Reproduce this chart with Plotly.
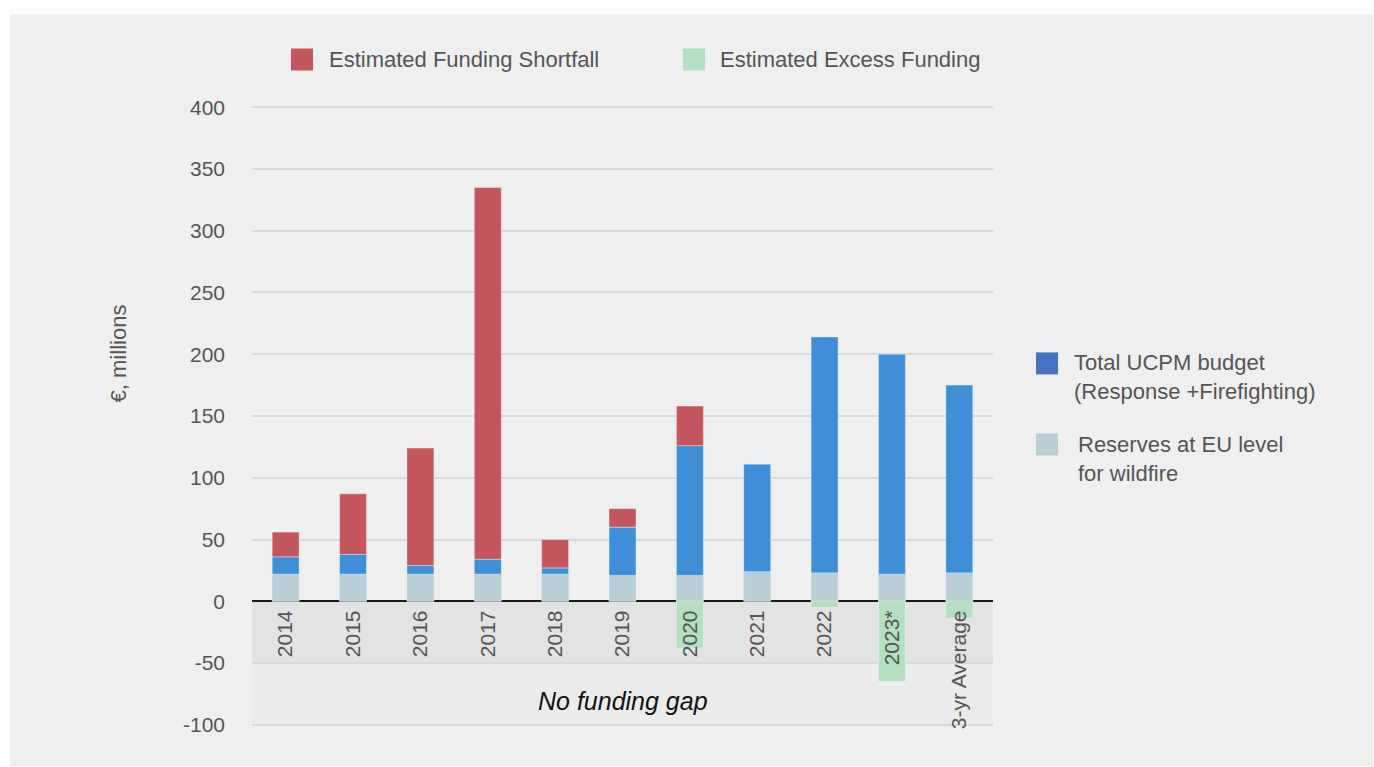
import plotly.graph_objects as go

# ---- data (€, millions) ----
categories = ["2014", "2015", "2016", "2017", "2018", "2019",
              "2020", "2021", "2022", "2023*", "3-yr Average"]
reserves = [22, 22, 22, 22, 22, 21, 21, 24, 23, 22, 23]
ucpm_budget = [36, 38, 29, 34, 27, 60, 126, 111, 214, 200, 175]
shortfall = [20, 49, 95, 301, 23, 15, 32, None, None, None, None]
excess = [None, None, None, None, None, None, -38, None, -5, -65, -14]

y_ticks = [400, 350, 300, 250, 200, 150, 100, 50, 0, -50, -100]
y_tick_labels = ["400", "350", "300", "250", "200", "150", "100", "50", "0", "-50", "-100"]

# ---- styling ----
W, H = 1374, 767
Y_LO, Y_HI = -101, 401
PL, PR, PT, PB = 252, 993, 105.5, 725.7  # plot area in pixels
FONT = "Liberation Sans, Arial, sans-serif"
RED, BLUE, RES, GREEN = "#c4575d", "#3f8ed8", "#b9ced5", "#b2e0c0"
TXT = "#555555"


def px_x(p):
    return (p - PL) / (PR - PL)


def px_y(p):
    return (PB - p) / (PB - PT)


edge = dict(color="rgba(255,255,255,0.35)", width=1)
fig = go.Figure()
fig.add_bar(x=categories, y=ucpm_budget, marker=dict(color=BLUE, line=edge),
            width=0.4, name="Total UCPM budget")
fig.add_bar(x=categories, y=reserves, marker=dict(color=RES, line=edge),
            width=0.4, name="Reserves at EU level for wildfire")
fig.add_bar(x=categories, y=shortfall, base=ucpm_budget,
            marker=dict(color=RED, line=edge), width=0.4,
            name="Estimated Funding Shortfall")
fig.add_bar(x=categories, y=excess, marker=dict(color=GREEN, line=edge),
            width=0.4, name="Estimated Excess Funding")

shapes = [
    # outer panel
    dict(type="rect", xref="paper", yref="paper", layer="below",
         x0=px_x(10), x1=px_x(1373), y0=px_y(766), y1=px_y(14),
         fillcolor="#efefef", line_width=0),
    # negative-value bands
    dict(type="rect", xref="x domain", yref="y", layer="below",
         x0=0, x1=1, y0=-50, y1=0, fillcolor="#e3e3e3", line_width=0),
    dict(type="rect", xref="x domain", yref="y", layer="below",
         x0=0, x1=1, y0=-100, y1=-50, fillcolor="#ebebeb", line_width=0),
]

annotations = [
    dict(text="€, millions", textangle=-90, xref="paper", yref="paper",
         x=px_x(118), y=px_y(353), xanchor="center", yanchor="middle",
         showarrow=False, font=dict(family=FONT, size=22, color=TXT)),
    dict(text="<i>No funding gap</i>", xref="x", yref="y", x=5, y=-81,
         showarrow=False, font=dict(family=FONT, size=25, color="#111111")),
]

# legend swatches and labels
legend_items = [
    (291, 48, RED, 327, 59, "Estimated Funding Shortfall"),
    (683, 48, GREEN, 718, 59, "Estimated Excess Funding"),
    (1036, 352, "#4472c4", 1072, 377, "Total UCPM budget<br>(Response +Firefighting)"),
    (1036, 433, RES, 1076, 459, "Reserves at EU level<br>for wildfire"),
]
for sx, sy, col, tx, ty, label in legend_items:
    shapes.append(dict(type="rect", xref="paper", yref="paper",
                       x0=px_x(sx), x1=px_x(sx + 22), y0=px_y(sy + 22), y1=px_y(sy),
                       fillcolor=col, line_width=0))
    annotations.append(dict(text=label, xref="paper", yref="paper",
                            x=px_x(tx), y=px_y(ty), xanchor="left", yanchor="middle",
                            align="left", showarrow=False,
                            font=dict(family=FONT, size=22, color=TXT)))

fig.update_layout(
    width=W, height=H,
    margin=dict(l=PL, r=W - PR, t=PT, b=H - PB, pad=0),
    paper_bgcolor="white", plot_bgcolor="rgba(0,0,0,0)",
    barmode="overlay", showlegend=False,
    shapes=shapes, annotations=annotations,
    xaxis=dict(
        type="category", range=[-0.5, 10.5],
        anchor="free", position=(0 - Y_LO) / (Y_HI - Y_LO),
        tickangle=-90, ticks="", showline=False, showgrid=False,
        ticklabelstandoff=4,
        tickfont=dict(family=FONT, size=21, color=TXT),
    ),
    yaxis=dict(
        range=[Y_LO, Y_HI], tickvals=y_ticks, ticktext=y_tick_labels,
        showgrid=True, gridcolor="#d9d9d9", gridwidth=2,
        zeroline=True, zerolinecolor="#1a1a1a", zerolinewidth=2,
        ticks="", ticklabelstandoff=26,
        tickfont=dict(family=FONT, size=21, color=TXT),
    ),
)

fig.write_html("out.html")
